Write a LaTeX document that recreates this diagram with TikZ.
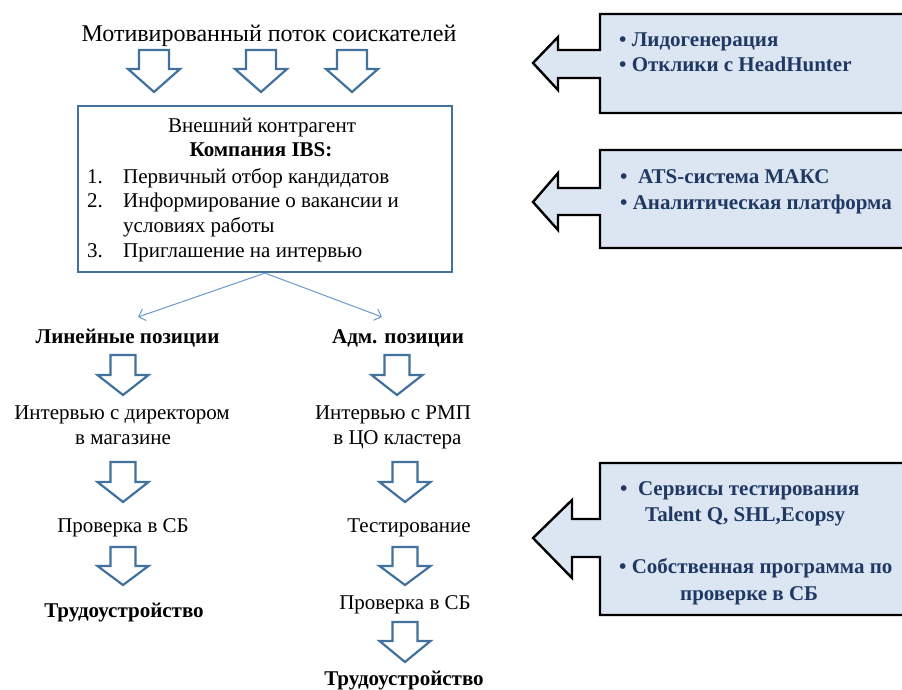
\documentclass[tikz,border=0pt]{standalone}
\usepackage{fontspec}
\setmainfont{Liberation Serif}
\usetikzlibrary{arrows.meta}
\definecolor{arrblue}{HTML}{41719C}
\definecolor{thinblue}{HTML}{6A98CF}
\definecolor{callfill}{HTML}{DCE6F2}
\definecolor{calltext}{HTML}{1F3864}
\tikzset{
  hollow/.style={draw=arrblue, line width=2.2pt, fill=white, line join=miter},
  callout/.style={draw=black, line width=2.4pt, fill=callfill, line join=miter},
  txt/.style={font=\fontsize{21}{25}\selectfont, inner sep=0pt, anchor=base},
  btxt/.style={txt, font=\fontsize{21}{25}\selectfont\bfseries},
  ctxt/.style={btxt, text=calltext, anchor=base west},
  thinconn/.style={draw=thinblue, line width=1pt, -{Straight Barb[length=6pt,width=12pt]}},
  pics/darr/.style n args={4}{code={\draw[hollow] (-#1,0) -- (#1,0) -- (#1,#3) -- (#2,#3) -- (0,#4) -- (-#2,#3) -- (-#1,#3) -- cycle;}},
}
\begin{document}
\begin{tikzpicture}[x=1pt,y=-1pt]
\useasboundingbox (0,0) rectangle (902,690);

% title and top arrows
\node[txt, font=\fontsize{24}{28}\selectfont] (title) at (269,42) {Мотивированный поток соискателей};
\pic (t1) at (154,50) {darr={15}{26}{19}{42}};
\pic (t2) at (261,50) {darr={15}{26}{19}{42}};
\pic (t3) at (352,50) {darr={15}{26}{19}{42}};

% IBS box
\node[draw=arrblue, line width=2.2pt, minimum width=374pt, minimum height=166pt, inner sep=0pt] (ibs) at (265,189) {};
\node[txt] (ext) at (262,132) {Внешний контрагент};
\node[btxt] (comp) at (261,157) {Компания IBS:};
\node[txt, anchor=base west] (i1) at (87,183) {\makebox[36pt][l]{1.}Первичный отбор кандидатов};
\node[txt, anchor=base west] (i2) at (87,207) {\makebox[36pt][l]{2.}Информирование о вакансии и};
\node[txt, anchor=base west] (i2b) at (123,232) {условиях работы};
\node[txt, anchor=base west] (i3) at (87,257) {\makebox[36pt][l]{3.}Приглашение на интервью};

% branching connectors
\coordinate (linTip) at (138,317);
\coordinate (admTip) at (382,317);
\draw[thinconn] (ibs.south) -- (linTip);
\draw[thinconn] (ibs.south) -- (admTip);

% left column
\node[btxt] (lin) at (127.5,343) {Линейные позиции};
\pic (l1) at (123,355) {darr={12.5}{25.5}{20}{40}};
\node[txt] (li1) at (122,419) {Интервью с директором};
\node[txt] (li1b) at (123,444) {в магазине};
\pic (l2) at (123,462) {darr={12.5}{25.5}{20}{40}};
\node[txt] (lsb) at (123,532) {Проверка в СБ};
\pic (l3) at (123,547) {darr={12.5}{25.5}{19}{38}};
\node[btxt] (ljob) at (124,617) {Трудоустройство};

% right column
\node[btxt] (adm) at (398,343) {Адм. позиции};
\pic (r1) at (397,355) {darr={12.5}{25.5}{20}{40}};
\node[txt] (ri1) at (393,419) {Интервью с РМП};
\node[txt] (ri1b) at (397.5,444) {в ЦО кластера};
\pic (r2) at (405,462) {darr={12.5}{25.5}{20}{40}};
\node[txt] (rtest) at (409,532) {Тестирование};
\pic (r3) at (405,547) {darr={12.5}{25.5}{19}{38}};
\node[txt] (rsb) at (405,609) {Проверка в СБ};
\pic (r4) at (405,622) {darr={12.5}{25.5}{19}{40}};
\node[btxt] (rjob) at (404,685) {Трудоустройство};

% callouts
\draw[callout] (910,14) -- (600,14) -- (600,50) -- (558,50) -- (558,37) -- (533,63) -- (558,90) -- (558,78) -- (600,78) -- (600,113) -- (910,113) -- cycle;
\node[ctxt] (c1a) at (619,47) {• Лидогенерация};
\node[ctxt] (c1b) at (619,72) {• Отклики с HeadHunter};

\draw[callout] (910,150) -- (600,150) -- (600,188) -- (558,188) -- (558,173) -- (533,202) -- (558,230) -- (558,215) -- (600,215) -- (600,248) -- (910,248) -- cycle;
\node[ctxt] (c2a) at (620,183) {•\ \ ATS-система МАКС};
\node[ctxt] (c2b) at (620,209) {• Аналитическая платформа};

\draw[callout] (910,463) -- (600,463) -- (600,519) -- (572,519) -- (572,500) -- (533,538) -- (572,578) -- (572,557) -- (600,557) -- (600,615) -- (910,615) -- cycle;
\node[ctxt] (c3a) at (620,495) {•\ \ Сервисы тестирования};
\node[ctxt] (c3b) at (645,521) {Talent Q, SHL,Ecopsy};
\node[ctxt] (c3c) at (619,573) {• Собственная программа по};
\node[ctxt] (c3d) at (680,600) {проверке в СБ};
\end{tikzpicture}
\end{document}
